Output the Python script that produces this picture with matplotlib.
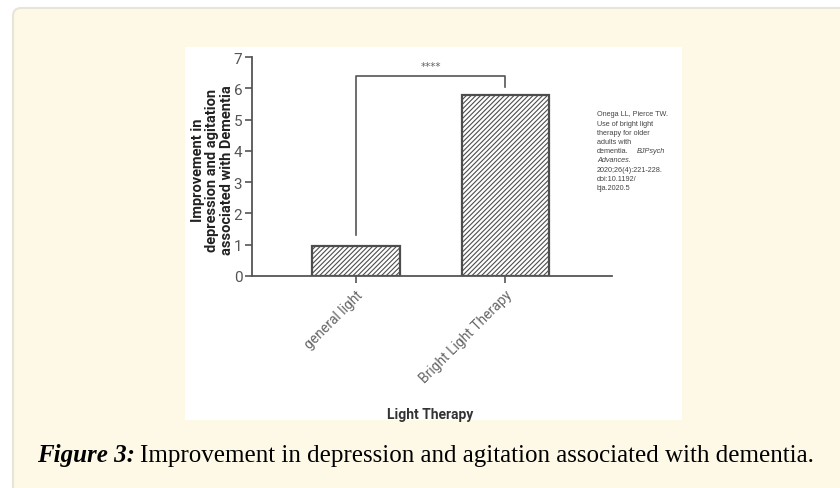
import matplotlib
matplotlib.use("Agg")
import matplotlib.pyplot as plt
from matplotlib.patches import FancyBboxPatch, Rectangle

# data
groups = ["general light", "Bright Light Therapy"]
improvement = [0.97, 5.77]
yticks = [0, 1, 2, 3, 4, 5, 6, 7]
sig_label = "****"
citation_lines = ["Onega LL, Pierce TW.", "Use of bright light", "therapy for older",
                  "adults with", "dementia.", "Advances.", "2020;26(4):221-228.",
                  "doi:10.1192/", "bja.2020.5"]
citation_italic = [False, False, False, False, False, True, False, False, False]

W, H = 840, 489
fig = plt.figure(figsize=(W / 100, H / 100), dpi=100)
fig.patch.set_facecolor("white")


def fx(px):
    return px / W


def fy(py):
    return 1 - py / H


# background layer: cream rounded panel + white image area
bg = fig.add_axes([0, 0, 1, 1], zorder=-5)
bg.set_xlim(0, W)
bg.set_ylim(H, 0)
bg.axis("off")
bg.add_patch(FancyBboxPatch((13, 9), 900, 600,
                            boxstyle="round,pad=0,rounding_size=8",
                            facecolor="#fef9e7", edgecolor="#e9e4d8", linewidth=1.5))
bg.add_patch(Rectangle((185, 48), 682 - 185, 421 - 48, facecolor="white",
                       edgecolor="none"))

ax = fig.add_axes([fx(252), fy(277), fx(612 - 252), (277 - 58) / H])
ax.set_facecolor("none")

x = [0.5, 1.5]
plt.rcParams["hatch.color"] = "#8a8a8a"
plt.rcParams["hatch.linewidth"] = 0.8
ax.bar(x, improvement, width=0.584, facecolor="white", edgecolor="#4d4d4d",
       linewidth=1.6, hatch="///////")

ax.set_xlim(-0.198, 2.218)
ax.set_ylim(0, 7)
ax.set_yticks(yticks)
ax.set_xticks(x)
ax.set_xticklabels(groups, rotation=45, ha="right", rotation_mode="anchor",
                   fontsize=10, color="#666666", family="Roboto")
ax.tick_params(axis="y", labelsize=11, labelcolor="#555555", color="#555555",
               length=5, width=1.2, pad=2)
ax.tick_params(axis="x", length=5, width=1.2, color="#555555", pad=3)
for lab in ax.get_yticklabels():
    lab.set_family("Roboto")
for s in ["top", "right"]:
    ax.spines[s].set_visible(False)
for s in ["left", "bottom"]:
    ax.spines[s].set_color("#555555")
    ax.spines[s].set_linewidth(1.3)

# significance bracket
ax.plot([0.5, 0.5, 1.5, 1.5], [1.3, 6.4, 6.4, 6.05], color="#555555", lw=1.2)
ax.text(1.0, 6.7, sig_label, ha="center", va="center", fontsize=7.5,
        color="#666666")

ax.set_ylabel("Improvement in\ndepression and agitation\nassociated with Dementia",
              fontsize=10.5, fontweight="bold", family="Roboto", linespacing=1.05,
              color="#222222")
ax.yaxis.set_label_coords((234 - 252) / 360, (277 - 170) / 219)
ax.set_xlabel("Light Therapy", fontsize=10, fontweight="bold", family="Roboto",
              color="#333333")
ax.xaxis.set_label_coords((430 - 252) / 360, (277 - 408) / (277 - 58))

# citation block
for i, (line, it) in enumerate(zip(citation_lines, citation_italic)):
    fig.text(fx(597), fy(115 + i * 9.2), line, fontsize=5.2, color="#444444",
             family="Liberation Sans", style="italic" if it else "normal",
             va="center", ha="left")
fig.text(fx(637), fy(115 + 4 * 9.2), "BJPsych", fontsize=5.2, color="#444444",
         family="Liberation Sans", style="italic", va="center", ha="left")

# caption
cap1 = fig.text(fx(37), fy(456), "Figure 3:", fontsize=18, fontweight="bold",
                style="italic", family="Liberation Serif", va="center", ha="left")
fig.canvas.draw()
bb = cap1.get_window_extent()
fig.text(bb.x1 / W + fx(5), fy(456),
         "Improvement in depression and agitation associated with dementia.",
         fontsize=18, family="Liberation Serif", va="center", ha="left")

fig.savefig("out.png", dpi=100, facecolor=fig.get_facecolor())
